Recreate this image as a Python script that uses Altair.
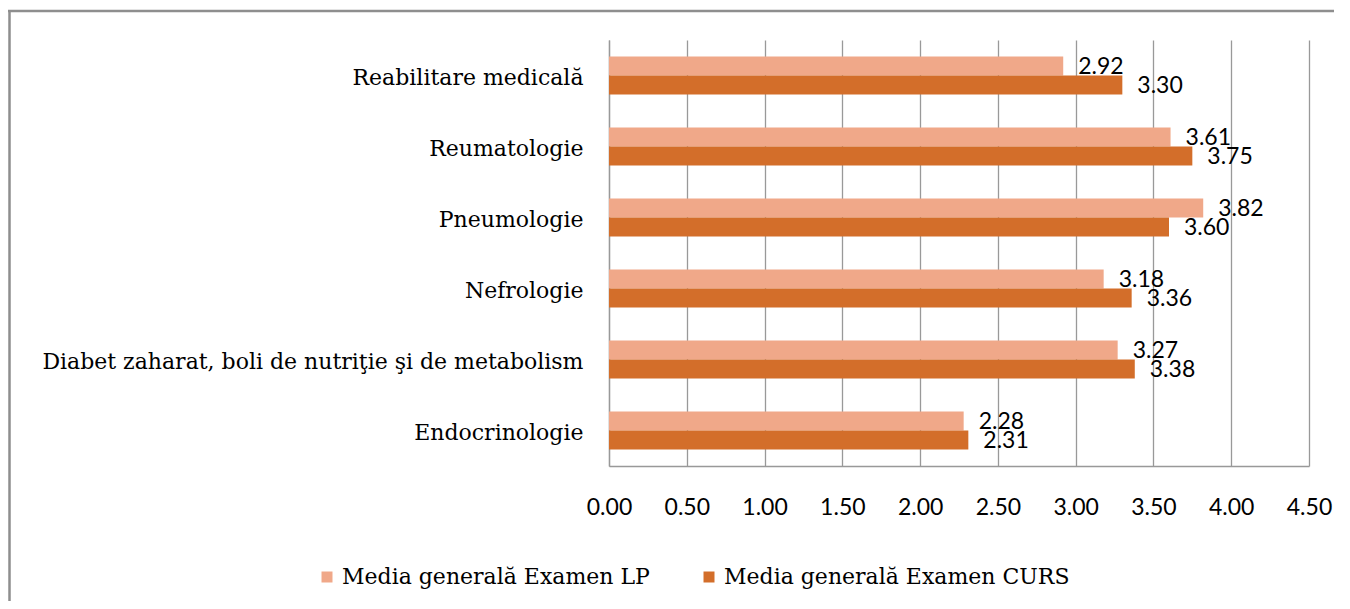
import altair as alt
import pandas as pd

categories = [
    "Reabilitare medicală",
    "Reumatologie",
    "Pneumologie",
    "Nefrologie",
    "Diabet zaharat, boli de nutriţie şi de metabolism",
    "Endocrinologie",
]
lp_values = [2.92, 3.61, 3.82, 3.18, 3.27, 2.28]
curs_values = [3.30, 3.75, 3.60, 3.36, 3.38, 2.31]
series_names = ["Media generală Examen LP", "Media generală Examen CURS"]
series_colors = ["#F0A889", "#D36E2A"]
tick_values = [0, 0.5, 1, 1.5, 2, 2.5, 3, 3.5, 4, 4.5]

rows = []
for c, a, b in zip(categories, lp_values, curs_values):
    rows.append({"cat": c, "series": series_names[0], "val": a, "lbl": f"{a:.2f}"})
    rows.append({"cat": c, "series": series_names[1], "val": b, "lbl": f"{b:.2f}"})
df = pd.DataFrame(rows)

base = alt.Chart(df).encode(
    y=alt.Y("cat:N", sort=categories, title=None,
            scale=alt.Scale(paddingInner=0.46, paddingOuter=0.23),
            axis=alt.Axis(labelFont="DejaVu Serif", labelFontSize=22, labelColor="#000",
                          labelPadding=26, labelOffset=2, ticks=False,
                          domainColor="#999", domainWidth=1.3, labelLimit=700)),
    yOffset=alt.YOffset("series:N", sort=series_names, scale=alt.Scale(paddingInner=0, paddingOuter=0)),
)

bars = base.mark_bar(size=19).encode(
    x=alt.X("val:Q", title=None,
            scale=alt.Scale(domain=[0, 4.5], nice=False),
            axis=alt.Axis(values=tick_values, format=".2f", labelFont="Lato", labelFontSize=23,
                          labelColor="#000", labelPadding=30, ticks=False,
                          domainColor="#999", domainWidth=1.3,
                          grid=True, gridColor="#999", gridWidth=1.3, labelFlush=False)),
    color=alt.Color("series:N", sort=series_names,
                    scale=alt.Scale(domain=series_names, range=series_colors),
                    legend=alt.Legend(title=None, orient="none", legendX=-293, legendY=526,
                                      direction="horizontal", symbolType="square", symbolSize=121,
                                      symbolStrokeWidth=0, labelFont="DejaVu Serif", labelFontSize=22,
                                      labelColor="#000", columnPadding=48, labelOffset=4,
                                      labelLimit=500)),
)

labels = base.mark_text(align="left", baseline="middle", dx=15, dy=1, font="Lato", fontSize=23,
                        color="#000").encode(x=alt.X("val:Q"), text="lbl:N")

frame = alt.Data(values=[{}])
top_line = alt.Chart(frame).mark_rule(stroke="#8e8e8e", strokeWidth=2.5).encode(
    x=alt.value(-601), x2=alt.value(800), y=alt.value(-29))
left_line = alt.Chart(frame).mark_rule(stroke="#8e8e8e", strokeWidth=2.5).encode(
    x=alt.value(-599.5), y=alt.value(-30), y2=alt.value(640))

chart = alt.layer(bars, labels, top_line, left_line).properties(
    width=700, height=426,
    autosize=alt.AutoSizeParams(type="none"),
    padding={"left": 601, "top": 32, "right": 25, "bottom": 135},
).configure_view(stroke=None)

chart.save("out.html", embed_options={"renderer": "svg", "actions": False})
